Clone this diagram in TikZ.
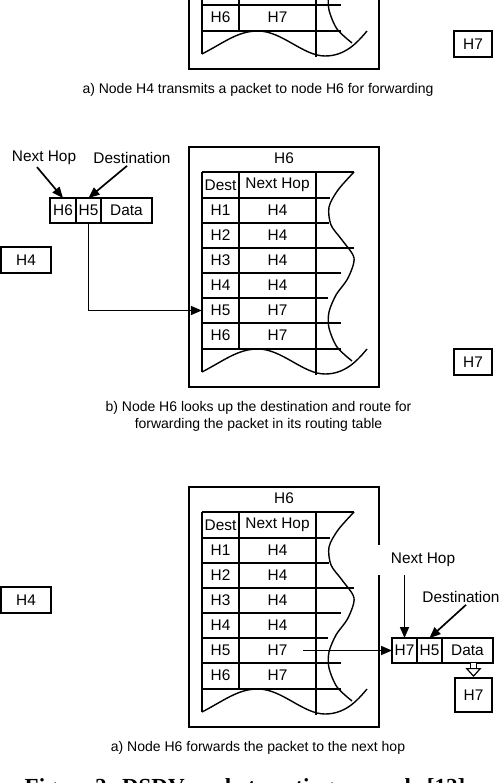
\documentclass[tikz,border=0pt]{standalone}
\usepackage{fontspec}
\setmainfont{Liberation Sans}
\newfontfamily\figfont{Liberation Serif}
\usetikzlibrary{arrows.meta,positioning}
\tikzset{
    frame/.style={line width=2.4pt}, % box round the routing table
    grid/.style={line width=1.4pt},
    cell/.style={inner sep=0pt, minimum height=25pt, font=\fontsize{15.4}{18}\selectfont},
    pkt/.style={draw, line width=1.6pt, inner sep=0pt, outer sep=0pt, minimum height=25pt, font=\fontsize{15.4}{18}\selectfont},
    host/.style={draw, line width=2pt, inner sep=0pt, minimum height=26pt, font=\fontsize{15.4}{18}\selectfont},
    lbl/.style={inner sep=2pt, font=\fontsize{15.4}{18}\selectfont},
    captext/.style={align=center, font=\fontsize{14}{17}\selectfont},
    arr/.style={line width=1.7pt, -{Triangle[length=11pt,width=9pt]}},
    hollow/.style={double, double distance=5pt, line width=1.2pt, -{Triangle[open, length=9pt, width=16pt]}}
}

% lines of the routing table of H6
\newcommand{\hoplines}{%
    \draw[frame] (189,147) rectangle (379,387);
    \draw[line width=1.8pt] (202,172) -- (354,172);
    \draw[grid] (202,172) -- (202,372);
    \draw[grid] (239,172) -- (239,349);
    \draw[grid] (316,172) -- (316,375);
    \foreach \y/\e/\w in {198/330/1.8, 223/329/1.1, 248/354/1.8, 273/341/1.1, 298/328/1.8, 323/341/1.1, 349/341/1.8}
        \draw[line width=\w pt] (202,\y) -- (\e,\y);
    % torn edges
    \draw[grid] plot[smooth] coordinates {(354,172) (338,190) (329,207) (331,225) (342,240) (354,258) (348,278) (336,295) (329,312) (329,328) (337,347) (352,361)};
    \draw[grid] (202,372) .. controls (225,360) and (238,349) .. (258,349)
        .. controls (282,349) and (303,374) .. (325,374)
        .. controls (345,374) and (357,361) .. (367,349);
}
% its entries
\newcommand{\hopcells}{%
    \node[cell] (title) at (284,158) {H6};
    \node[cell, minimum width=37pt] (hd) at (220.5,185) {Dest};
    \node[cell, minimum width=77pt] (hn) at (277.5,185) {Next Hop};
    \foreach \d/\n [count=\i] in {H1/H4, H2/H4, H3/H4, H4/H4, H5/H7, H6/H7} {
        \node[cell, minimum width=37pt] (d\i) at (220.5,185.5+25*\i) {\d};
        \node[cell, minimum width=77pt] (n\i) at (277.5,185.5+25*\i) {\n};
    }
}

\begin{document}
\begin{tikzpicture}[x=1pt, y=-1pt]
\useasboundingbox (0,0) rectangle (500,783);
\clip (0,0) rectangle (500,783);

% a) H4 sends to H6 (only its lower part shows)
\begin{scope}[shift={(0,-318)}, name prefix=a-]
    \hoplines
    \node[cell, minimum width=37pt] (d6) at (220.5,335.5) {H6};
    \node[cell, minimum width=77pt] (n6) at (277.5,335.5) {H7};
    \node[host, minimum width=38pt] (h7) at (473,362) {H7};
    \node[captext] (caption) at (258,408) {a) Node H4 transmits a packet to node H6 for forwarding};
\end{scope}

% b) H6 looks up H5
\begin{scope}[name prefix=b-]
    \hoplines
    \hopcells
    \node[host, minimum width=50pt] (h4) at (26,260) {H4};
    \node[host, minimum width=38pt] (h7) at (473,362) {H7};
    \node[pkt, minimum width=26pt] (p1) at (63,210.5) {H6};
    \node[pkt, minimum width=25pt, right=0pt of p1] (p2) {H5};
    \node[pkt, minimum width=51pt, right=0pt of p2] (p3) {Data};
    \node[lbl] (nhop) at (44,158) {Next Hop};
    \node[lbl] (dst) at (132,158) {Destination};
    \draw[arr] ([xshift=-7pt]nhop.south) -- (p1.north);
    \draw[arr] ([xshift=-5pt]dst.south) -- (p2.north);
    \draw[arr] (p2.south) |- (d5.west);
    \node[captext] (caption) at (258.5,416.5) {b) Node H6 looks up the destination and route for\\forwarding the packet in its routing table};
\end{scope}

% c) H6 forwards to H7
\begin{scope}[shift={(0,340)}, name prefix=c-]
    \hoplines
    \hopcells
    \node[host, minimum width=50pt] (h4) at (26,260) {H4};
    \node[host, minimum width=37pt, minimum height=34pt] (h7) at (473.5,355) {H7};
    \node[pkt, minimum width=25pt] (p1) at (404.5,310.5) {H7};
    \node[pkt, minimum width=25pt, right=0pt of p1] (p2) {H5};
    \node[pkt, minimum width=51pt, right=0pt of p2] (p3) {Data};
    \node[lbl, fill=white, inner xsep=13pt, inner ysep=8pt] (nhop) at (423,220) {Next Hop};
    \node[lbl] (dst) at (461,257) {Destination};
    \draw[arr] (p1.north |- nhop.south) -- (p1.north);
    \draw[arr] ([xshift=5pt]dst.south) -- (p2.north);
    \draw[arr] ([xshift=-13pt]n5.east) -- (p1.west);
    \draw[hollow] (p3.south -| h7.north) -- (h7.north);
    \node[captext] (caption) at (258,408) {a) Node H6 forwards the packet to the next hop};
\end{scope}

\node[anchor=base, font=\figfont\bfseries\fontsize{23}{26}\selectfont] (fig) at (245,794) {Figure 2: DSDV packet routing example [12]};
\end{tikzpicture}
\end{document}
